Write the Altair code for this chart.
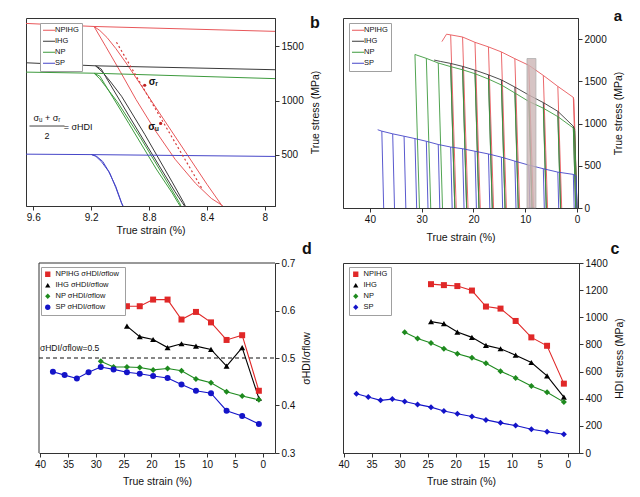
import altair as alt
import pandas as pd

FONT = "Liberation Sans"
SERIES = ["NPIHG", "IHG", "NP", "SP"]
COL_A = ["#e8575a", "#3a3a3a", "#3d9a3d", "#4646c8"]
COL_C = ["#e02828", "#000000", "#1e8a1e", "#1414c8"]

# ---------------- panel a : interrupted tensile curves ----------------
a_env_x_npihg = [0.0, 0.45, 0.6, 0.7, 3.7, 6.5, 9.3, 12.0, 14.6, 17.1, 19.7, 22.1, 24.4, 25.2, 26.1]
a_env_y_npihg = [0, 1000, 1280, 1310, 1440, 1570, 1690, 1768, 1848, 1908, 1962, 2025, 2050, 2058, 1970]
a_env_x_ihg = [0.0, 0.45, 0.7, 3.7, 6.5, 9.3, 12.0, 14.6, 17.1, 19.7, 22.1, 24.4, 26.4, 27.6]
a_env_y_ihg = [0, 930, 968, 1145, 1248, 1338, 1432, 1517, 1577, 1632, 1677, 1712, 1736, 1752]
a_env_x_np = [0.0, 0.45, 0.7, 3.7, 6.5, 9.3, 12.0, 14.6, 17.1, 19.7, 22.1, 24.4, 26.8, 29.1, 31.3]
a_env_y_np = [0, 910, 948, 1082, 1182, 1262, 1362, 1457, 1527, 1590, 1637, 1674, 1717, 1772, 1818]
a_env_x_sp = [0.0, 0.15, 0.7, 3.7, 6.5, 9.3, 12.0, 14.6, 17.1, 19.7, 22.1, 24.4, 26.8, 29.1, 31.3, 33.4, 35.6, 37.7, 38.5]
a_env_y_sp = [0, 380, 398, 425, 465, 508, 555, 602, 640, 672, 702, 722, 752, 790, 822, 850, 878, 910, 927]

# unloading lines: top strain, top stress, strain at zero stress
a_un_x_npihg = [24.4, 22.1, 19.7, 17.1, 14.6, 12.0, 9.3, 6.5, 3.7, 0.7]
a_un_y_npihg = [2050, 2025, 1962, 1908, 1848, 1768, 1690, 1570, 1440, 1310]
a_un_b_npihg = [23.33, 21.05, 18.68, 16.11, 13.64, 11.08, 8.42, 5.68, 2.95, 0.02]
a_un_x_ihg = [24.4, 22.1, 19.7, 17.1, 14.6, 12.0, 9.3, 6.5, 3.7, 0.7]
a_un_y_ihg = [1712, 1677, 1632, 1577, 1517, 1432, 1338, 1248, 1145, 968]
a_un_b_ihg = [23.60, 21.31, 18.93, 16.36, 13.89, 11.33, 8.67, 5.92, 3.16, 0.25]
a_un_x_np = [31.3, 29.1, 26.8, 24.4, 22.1, 19.7, 17.1, 14.6, 12.0, 9.3, 6.5, 3.7, 0.7]
a_un_y_np = [1818, 1772, 1717, 1674, 1637, 1590, 1527, 1457, 1362, 1262, 1182, 1082, 948]
a_un_b_np = [30.43, 28.25, 25.98, 23.60, 21.32, 18.94, 16.37, 13.90, 11.35, 8.70, 5.94, 3.18, 0.25]
a_un_x_sp = [37.7, 35.6, 33.4, 31.3, 29.1, 26.8, 24.4, 22.1, 19.7, 17.1, 14.6, 12.0, 9.3, 6.5, 3.7, 0.7]
a_un_y_sp = [910, 878, 850, 822, 790, 752, 722, 702, 672, 640, 602, 555, 508, 465, 425, 398]
a_un_b_sp = [37.34, 35.25, 33.06, 30.97, 28.78, 26.50, 24.11, 21.82, 19.43, 16.84, 14.36, 11.78, 9.10, 6.31, 3.53, 0.54]

# zoom window shown in panel b
a_box_x = [7.93, 9.65]
a_box_y = [0, 1770]

# ---------------- panel b : zoom on one unloading loop ----------------
b_env_x_npihg = [7.93, 9.18, 9.65]
b_env_y_npihg = [1637, 1682, 1710]
b_env_x_ihg = [7.93, 9.17, 9.65]
b_env_y_ihg = [1284, 1320, 1348]
b_env_x_np = [7.93, 9.18, 9.65]
b_env_y_np = [1202, 1252, 1262]
b_env_x_sp = [7.93, 9.20, 9.65]
b_env_y_sp = [486, 503, 507]

b_un_x_npihg = [9.18, 9.10, 9.00, 8.89, 8.76, 8.62, 8.48, 8.37, 8.30, 8.27]
b_un_y_npihg = [1682, 1500, 1270, 1010, 730, 460, 240, 100, 40, 0]
b_re_x_npihg = [8.27, 8.30, 8.40, 8.55, 8.70, 8.85, 8.95, 9.03, 9.09, 9.14, 9.18]
b_re_y_npihg = [0, 40, 230, 530, 830, 1130, 1330, 1480, 1580, 1645, 1682]
b_un_x_ihg = [9.17, 9.13, 9.10, 8.93, 8.73, 8.62, 8.57, 8.54]
b_un_y_ihg = [1320, 1290, 1220, 840, 400, 160, 60, 0]
b_re_x_ihg = [8.54, 8.56, 8.64, 8.83, 8.99, 9.07, 9.12, 9.17]
b_re_y_ihg = [0, 60, 250, 690, 1040, 1180, 1260, 1320]
b_un_x_np = [9.18, 9.14, 9.11, 8.94, 8.75, 8.64, 8.60, 8.57]
b_un_y_np = [1252, 1225, 1160, 790, 370, 150, 60, 0]
b_re_x_np = [8.57, 8.59, 8.67, 8.86, 9.02, 9.10, 9.14, 9.18]
b_re_y_np = [0, 60, 240, 660, 990, 1130, 1200, 1252]
b_un_x_sp = [9.20, 9.17, 9.13, 9.08, 9.03, 8.99, 8.97]
b_un_y_sp = [505, 490, 440, 350, 210, 60, 0]
b_re_x_sp = [8.97, 8.99, 9.03, 9.07, 9.12, 9.16, 9.20]
b_re_y_sp = [0, 55, 200, 330, 440, 485, 505]

b_tan_x = [9.025, 8.437]
b_tan_y = [1537, 197]
b_dot_x = [8.83, 8.72]
b_dot_y = [1141, 790]
b_lab_txt = ["σᵣ", "σᵤ"]
b_lab_x = [8.77, 8.77]
b_lab_y = [1172, 760]

# ---------------- panels c and d ----------------
strain_sp = [37.7, 35.6, 33.4, 31.3, 29.1, 26.8, 24.4, 22.1, 19.7, 17.1, 14.6, 12.0, 9.3, 6.5, 3.7, 0.7]
strain_np = [29.1, 26.8, 24.4, 22.1, 19.7, 17.1, 14.6, 12.0, 9.3, 6.5, 3.7, 0.7]
strain_ihg = [24.4, 22.1, 19.7, 17.1, 14.6, 12.0, 9.3, 6.5, 3.7, 0.7]
strain_npihg = [24.4, 22.1, 19.7, 17.1, 14.6, 12.0, 9.3, 6.5, 3.7, 0.7]

hdi_npihg = [1244, 1237, 1230, 1197, 1079, 1064, 973, 852, 790, 511]
hdi_ihg = [968, 953, 891, 852, 793, 768, 721, 667, 568, 412]
hdi_np = [889, 844, 810, 768, 731, 701, 662, 603, 553, 494, 447, 375]
hdi_sp = [437, 412, 388, 397, 380, 358, 338, 309, 289, 269, 244, 222, 202, 175, 156, 138]

ratio_npihg = [0.609, 0.609, 0.623, 0.623, 0.581, 0.597, 0.575, 0.538, 0.548, 0.431]
ratio_ihg = [0.567, 0.545, 0.539, 0.522, 0.530, 0.525, 0.518, 0.483, 0.522, 0.415]
ratio_np = [0.493, 0.481, 0.481, 0.480, 0.475, 0.478, 0.473, 0.456, 0.448, 0.429, 0.420, 0.412]
ratio_sp = [0.471, 0.464, 0.457, 0.470, 0.481, 0.476, 0.470, 0.467, 0.462, 0.458, 0.444, 0.431, 0.426, 0.389, 0.378, 0.361]

d_ref_level = [0.5]
d_ref_txt = ["σHDI/σflow=0.5"]
d_ref_x = [34.7]
d_ref_y = [0.521]
d_xdom = [-2.2, 40.2]
d_ydom = [0.3, 0.7]

# ---------------- build tables ----------------
rows_a = []
for s, ex, ey, ux, uy, ub in [
    ("NPIHG", a_env_x_npihg, a_env_y_npihg, a_un_x_npihg, a_un_y_npihg, a_un_b_npihg),
    ("IHG", a_env_x_ihg, a_env_y_ihg, a_un_x_ihg, a_un_y_ihg, a_un_b_ihg),
    ("NP", a_env_x_np, a_env_y_np, a_un_x_np, a_un_y_np, a_un_b_np),
    ("SP", a_env_x_sp, a_env_y_sp, a_un_x_sp, a_un_y_sp, a_un_b_sp),
]:
    for k, (x, y) in enumerate(zip(ex, ey)):
        rows_a.append({"series": s, "seg": s + "-env", "k": k, "strain": x, "stress": y})
    for j, (x, y, b) in enumerate(zip(ux, uy, ub)):
        rows_a.append({"series": s, "seg": f"{s}-u{j}", "k": 0, "strain": x, "stress": y})
        rows_a.append({"series": s, "seg": f"{s}-u{j}", "k": 1, "strain": b, "stress": 0})
df_a = pd.DataFrame(rows_a)
df_box = pd.DataFrame({"strain": [a_box_x[0]], "strain2": [a_box_x[1]],
                       "stress": [a_box_y[0]], "stress2": [a_box_y[1]]})

rows_b = []
for s, parts in [
    ("NPIHG", [(b_env_x_npihg, b_env_y_npihg), (b_un_x_npihg, b_un_y_npihg), (b_re_x_npihg, b_re_y_npihg)]),
    ("IHG", [(b_env_x_ihg, b_env_y_ihg), (b_un_x_ihg, b_un_y_ihg), (b_re_x_ihg, b_re_y_ihg)]),
    ("NP", [(b_env_x_np, b_env_y_np), (b_un_x_np, b_un_y_np), (b_re_x_np, b_re_y_np)]),
    ("SP", [(b_env_x_sp, b_env_y_sp), (b_un_x_sp, b_un_y_sp), (b_re_x_sp, b_re_y_sp)]),
]:
    for j, (px, py) in enumerate(parts):
        for k, (x, y) in enumerate(zip(px, py)):
            rows_b.append({"series": s, "seg": f"{s}-{j}", "k": k, "strain": x, "stress": y})
df_b = pd.DataFrame(rows_b)
df_tan = pd.DataFrame({"strain": b_tan_x, "stress": b_tan_y, "k": [0, 1]})
df_dot = pd.DataFrame({"strain": b_dot_x, "stress": b_dot_y})
df_lab = pd.DataFrame({"strain": b_lab_x, "stress": b_lab_y, "t": b_lab_txt})

rows_c = []
for s, xs, hs, rs in [
    ("NPIHG", strain_npihg, hdi_npihg, ratio_npihg),
    ("IHG", strain_ihg, hdi_ihg, ratio_ihg),
    ("NP", strain_np, hdi_np, ratio_np),
    ("SP", strain_sp, hdi_sp, ratio_sp),
]:
    for k, (x, h, r) in enumerate(zip(xs, hs, rs)):
        rows_c.append({"series": s, "k": k, "strain": x, "hdi": h, "ratio": r})
df_c = pd.DataFrame(rows_c)


def legend(x, y, stroke, extra=None):
    kw = dict(title=None, orient="none", legendX=x, legendY=y, labelFontSize=7.5, labelFont=FONT,
              labelColor="#111111", strokeColor="#a0a0a0", fillColor="white", padding=3,
              rowPadding=2, labelOffset=4, labelLimit=250, clipHeight=8.5)
    if stroke:
        kw.update(symbolType="M-2.67,0H2.67", symbolSize=36, symbolStrokeWidth=1.2)
    else:
        kw.update(symbolSize=28, symbolStrokeWidth=0)
    if extra:
        kw.update(extra)
    return alt.Legend(**kw)


def letter(ch, x, y, fs=16):
    return alt.Chart(pd.DataFrame({"t": [ch]})).mark_text(
        fontSize=fs, fontWeight="bold", font=FONT, align="center", baseline="alphabetic", color="#111111"
    ).encode(text="t:N", x=alt.value(x), y=alt.value(y))


def yaxis(title, values, fmt="d"):
    return alt.Axis(orient="right", values=values, title=title, titleAngle=270, titleBaseline="top",
                    labelFlush=False, format=fmt, titlePadding=7)


# ---------------- panel a ----------------
xa = alt.X("strain:Q", scale=alt.Scale(domain=[-0.2, 45.2], reverse=True, nice=False, zero=False),
           axis=alt.Axis(values=[0, 10, 20, 30, 40], title="True strain (%)", labelFlush=False,
                         titlePadding=8))
ya = alt.Y("stress:Q", scale=alt.Scale(domain=[0, 2250], nice=False),
           axis=yaxis("True stress (MPa)", [0, 500, 1000, 1500, 2000]))
lines_a = alt.Chart(df_a).mark_line(strokeWidth=0.9, clip=True).encode(
    x=xa, y=ya,
    color=alt.Color("series:N", scale=alt.Scale(domain=SERIES, range=COL_A), legend=legend(6, 5, True)),
    detail="seg:N", order="k:Q")
box_a = alt.Chart(df_box).mark_rect(fill="#cdb6b6", opacity=0.8, stroke="#9a9a9a", strokeWidth=0.8).encode(
    x="strain:Q", x2="strain2:Q", y="stress:Q", y2="stress2:Q")
panel_a = alt.layer(lines_a, box_a, letter("a", 275, 3, 15)).properties(width=235, height=190)

# ---------------- panel b ----------------
xb = alt.X("strain:Q", scale=alt.Scale(domain=[7.93, 9.65], reverse=True, nice=False, zero=False),
           axis=alt.Axis(values=[8.0, 8.2, 8.4, 8.6, 8.8, 9.0, 9.2, 9.4, 9.6], format=".1~f",
                         title="True strain (%)", labelFlush=False, titlePadding=3))
yb = alt.Y("stress:Q", scale=alt.Scale(domain=[30, 1760], nice=False, zero=False),
           axis=yaxis("True stress (MPa)", [500, 1000, 1500]))
lines_b = alt.Chart(df_b).mark_line(strokeWidth=1, clip=True).encode(
    x=xb, y=yb,
    color=alt.Color("series:N", scale=alt.Scale(domain=SERIES, range=COL_A), legend=legend(14, 5, True)),
    detail="seg:N", order="k:Q")
tan_b = alt.Chart(df_tan).mark_line(strokeWidth=1.2, strokeDash=[2, 2.5], color="#d83a3a").encode(
    x="strain:Q", y="stress:Q", order="k:Q")
dots_b = alt.Chart(df_dot).mark_circle(size=10, color="#c02020", opacity=1).encode(x="strain:Q", y="stress:Q")
labs_b = alt.Chart(df_lab).mark_text(fontSize=10, font=FONT, fontWeight="bold", color="#111111").encode(
    x="strain:Q", y="stress:Q", text="t:N")
f_num = alt.Chart(pd.DataFrame({"strain": [9.505], "stress": [842], "t": ["σᵤ + σᵣ"]})).mark_text(
    fontSize=9, font=FONT, color="#111111").encode(x="strain:Q", y="stress:Q", text="t:N")
f_den = alt.Chart(pd.DataFrame({"strain": [9.505], "stress": [676], "t": ["2"]})).mark_text(
    fontSize=9, font=FONT, color="#111111").encode(x="strain:Q", y="stress:Q", text="t:N")
f_bar = alt.Chart(pd.DataFrame({"strain": [9.626], "strain2": [9.384], "stress": [766]})).mark_rule(
    color="#111111", strokeWidth=0.8).encode(x="strain:Q", x2="strain2:Q", y="stress:Q")
f_lhs = alt.Chart(pd.DataFrame({"strain": [9.29], "stress": [759], "t": ["= σHDI"]})).mark_text(
    fontSize=9, font=FONT, color="#111111").encode(x="strain:Q", y="stress:Q", text="t:N")
panel_b = alt.layer(lines_b, tan_b, dots_b, labs_b, f_num, f_den, f_bar, f_lhs,
                    letter("b", 289, 10)).properties(width=249, height=188)

# ---------------- panel c ----------------
shape_scale = alt.Scale(domain=SERIES, range=["square", "triangle-up", "diamond", "diamond"])
xc = alt.X("strain:Q", scale=alt.Scale(domain=[-2, 40.1], reverse=True, nice=False, zero=False),
           axis=alt.Axis(values=list(range(0, 41, 5)), title="True strain (%)", labelFlush=False,
                         titlePadding=7))
yc = alt.Y("hdi:Q", scale=alt.Scale(domain=[0, 1400], nice=False),
           axis=yaxis("HDI stress (MPa)", list(range(0, 1401, 200))))
leg_c = legend(6, 4, False)
line_c = alt.Chart(df_c).mark_line(strokeWidth=1.1).encode(
    x=xc, y=yc, color=alt.Color("series:N", scale=alt.Scale(domain=SERIES, range=COL_C), legend=leg_c),
    order="k:Q")
pts_c = alt.Chart(df_c).mark_point(filled=True, size=36, opacity=1).encode(
    x=xc, y=yc, color=alt.Color("series:N", scale=alt.Scale(domain=SERIES, range=COL_C), legend=leg_c),
    shape=alt.Shape("series:N", scale=shape_scale, legend=leg_c))
panel_c = alt.layer(line_c, pts_c, letter("c", 272, -9)).properties(width=236, height=190)

# ---------------- panel d ----------------
# plot frame of d starts 13 px to the right of the column edge: x range [13, 249]
shape_scale_d = alt.Scale(domain=SERIES, range=["square", "triangle-up", "diamond", "circle"])
xd = alt.X("strain:Q", scale=alt.Scale(domain=d_xdom, range=[13, 249], reverse=True, nice=False, zero=False),
           axis=alt.Axis(values=list(range(0, 41, 5)), title="True strain (%)", labelFlush=False,
                         titlePadding=7))
yd = alt.Y("ratio:Q", scale=alt.Scale(domain=d_ydom, nice=False, zero=False),
           axis=yaxis("σHDI/σflow", [0.3, 0.4, 0.5, 0.6, 0.7], ".1f"))
leg_d = legend(15, 4, False, {"labelExpr": "datum.label + '  σHDI/σflow'"})
frame_d = alt.Chart(pd.DataFrame({"strain": [d_xdom[1], d_xdom[1]], "strain2": [d_xdom[1], d_xdom[0]],
                                  "ratio": [d_ydom[0], d_ydom[1]], "ratio2": [d_ydom[1], d_ydom[1]]})).mark_rule(
    color="#333333", strokeWidth=1).encode(x=xd, x2="strain2:Q", y=yd, y2="ratio2:Q")
ref_d = alt.Chart(pd.DataFrame({"ratio": d_ref_level, "strain": [d_xdom[1]], "strain2": [d_xdom[0]]})).mark_rule(
    color="#111111", strokeDash=[4, 3], strokeWidth=1.2).encode(x=xd, x2="strain2:Q", y=yd)
line_d = alt.Chart(df_c).mark_line(strokeWidth=1.1).encode(
    x=xd, y=yd, color=alt.Color("series:N", scale=alt.Scale(domain=SERIES, range=COL_C), legend=leg_d),
    order="k:Q")
pts_d = alt.Chart(df_c).mark_point(filled=True, size=36, opacity=1).encode(
    x=xd, y=yd, color=alt.Color("series:N", scale=alt.Scale(domain=SERIES, range=COL_C), legend=leg_d),
    shape=alt.Shape("series:N", scale=shape_scale_d, legend=leg_d))
txt_d = alt.Chart(pd.DataFrame({"strain": d_ref_x, "ratio": d_ref_y, "t": d_ref_txt})).mark_text(
    fontSize=8.5, font=FONT, color="#111111").encode(x=xd, y=yd, text="t:N")
panel_d = alt.layer(frame_d, ref_d, line_d, pts_d, txt_d, letter("d", 281, -9)).properties(
    width=249, height=190, view=alt.ViewBackground(stroke="transparent"))

chart = alt.concat(panel_b, panel_a, panel_d, panel_c, columns=2,
                   spacing={"row": 55, "column": 68}, bounds="flush").resolve_scale(
    color="independent", shape="independent"
).properties(
    padding={"left": 17, "top": 0, "right": 4, "bottom": 4}
).configure(font=FONT).configure_view(stroke="#333333", strokeWidth=1).configure_axis(
    labelFont=FONT, titleFont=FONT, labelFontSize=10, titleFontSize=10.5, titleFontWeight="normal",
    grid=False, domainColor="#333333", tickColor="#333333", labelColor="#111111", titleColor="#111111",
    tickSize=4, labelPadding=2, titlePadding=4
)

chart.save("out.html", embed_options={"renderer": "svg", "actions": False})
